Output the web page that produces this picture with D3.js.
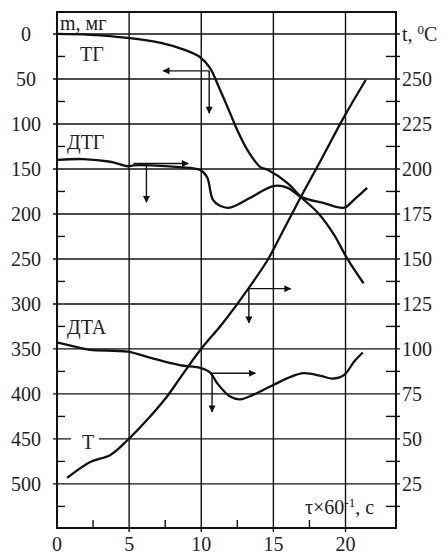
<!DOCTYPE html>
<html lang="ru">
<head>
<meta charset="utf-8">
<style>
  body { margin: 0; background: #fff; }
  svg { background-color: white; font-family: 'Liberation Serif', serif; }
  .tick-label { font-size: 20px; fill: #222; }
  .curve { fill: none; stroke: #111; stroke-width: 2.3; }
  .grid { stroke: #111; stroke-width: 1.4; }
  .arrow { stroke: #111; stroke-width: 1.4; fill: none; }
</style>
</head>
<body>
<div id="chart"></div>
<script src="https://d3js.org/d3.v7.min.js"></script>
<script>
// time, min (tau x 60^-1, s)
var xTicks = [0, 5, 10, 15, 20];
var xMinor = [2.5, 7.5, 12.5, 17.5];
var mTicks = [0, 50, 100, 150, 200, 250, 300, 350, 400, 450, 500];
var tTicks = [25, 50, 75, 100, 125, 150, 175, 200, 225, 250];

// TG (mass loss, mg)
var tgTime = [0, 2.3, 4.9, 7.2, 8.9, 9.9, 10.6, 11.3, 12.0, 12.5, 13.2, 14.1, 14.6, 16.0, 16.9, 18.1, 19.2, 20.1, 21.25];
var tgMass = [0, 1, 4.4, 10, 18, 25.6, 37.8, 62, 88, 107, 129, 148, 151, 166, 181, 199, 223, 249, 277];

// DTG (plotted on the mass axis)
var dtgTime = [0.07, 1.8, 3.7, 4.9, 5.3, 6.5, 8.5, 9.9, 10.4, 10.8, 11.3, 12.0, 13.4, 15.0, 16.0, 16.9, 18.5, 19.9, 20.6, 21.5];
var dtgVal = [140, 139, 142, 147, 146, 146, 148, 151, 159, 184, 191, 193, 182, 169, 171, 181, 188, 193, 184, 171];

// DTA (plotted on the mass axis)
var dtaTime = [0.07, 1.4, 2.3, 4.9, 6.5, 8.5, 9.93, 10.6, 11.1, 12.0, 12.7, 13.6, 15.0, 16.2, 17.1, 18.3, 19.1, 19.9, 20.6, 21.2];
var dtaVal = [343, 348, 351, 353, 360, 368, 371, 376, 388, 403, 406, 401, 390, 381, 377, 380, 383, 379, 364, 354];

// T (temperature, degC, right axis)
var tTime = [0.7, 2.3, 3.7, 4.9, 6.25, 7.6, 8.54, 9.93, 11.5, 13.2, 14.6, 15.7, 16.9, 18.3, 19.9, 21.4];
var tTemp = [28.3, 37.2, 41.1, 49.4, 60.6, 73.3, 83.9, 99.4, 114.4, 132.8, 149.4, 166.1, 184.4, 205, 228.9, 249.4];

// reading arrows: [time, mass, horizontal end time, vertical end mass]
var arrows = [
  [10.55, 41, 7.36, 88],
  [5.3, 144, 9.1, 187],
  [13.3, 283, 16.2, 321],
  [10.7, 377, 13.75, 420]
];
var arrowDrop = [10.55, 6.2, 13.3, 10.75];

var W = 446, H = 556;
var svg = d3.select("#chart").append("svg")
  .attr("width", W).attr("height", H);

var x = d3.scaleLinear().domain([0, 23.5]).range([57, 396]);
var yL = d3.scaleLinear().domain([-24.4, 549]).range([12, 528]);
var yR = d3.scaleLinear().domain([275 + 24.4 / 2, 275 - 549 / 2]).range([12, 528]);

var defs = svg.append("defs");
defs.append("marker")
  .attr("id", "head")
  .attr("viewBox", "0 0 10 10")
  .attr("refX", 9).attr("refY", 5)
  .attr("markerWidth", 9).attr("markerHeight", 7)
  .attr("markerUnits", "userSpaceOnUse")
  .attr("orient", "auto")
  .append("path").attr("d", "M0,0L10,5L0,10Z").attr("fill", "#111");

// grid
svg.append("g").selectAll("line")
  .data(xTicks.slice(1))
  .enter().append("line")
  .attr("class", "grid")
  .attr("x1", function(d) { return x(d); })
  .attr("x2", function(d) { return x(d); })
  .attr("y1", 12).attr("y2", 532);

svg.append("g").selectAll("line")
  .data(mTicks)
  .enter().append("line")
  .attr("class", "grid")
  .attr("x1", 53).attr("x2", 400)
  .attr("y1", function(d) { return yL(d); })
  .attr("y2", function(d) { return yL(d); });

// minor ticks (inward)
svg.append("g").selectAll("line")
  .data(d3.range(25, 550, 50))
  .enter().append("line")
  .attr("class", "grid")
  .attr("x1", 57).attr("x2", 65)
  .attr("y1", function(d) { return yL(d); })
  .attr("y2", function(d) { return yL(d); });

svg.append("g").selectAll("line")
  .data(d3.range(25, 550, 50))
  .enter().append("line")
  .attr("class", "grid")
  .attr("x1", 386).attr("x2", 400)
  .attr("y1", function(d) { return yL(d); })
  .attr("y2", function(d) { return yL(d); });

svg.append("g").selectAll("line")
  .data(xMinor)
  .enter().append("line")
  .attr("class", "grid")
  .attr("x1", function(d) { return x(d); })
  .attr("x2", function(d) { return x(d); })
  .attr("y1", 520).attr("y2", 528);

// frame
svg.append("rect")
  .attr("x", 57).attr("y", 12)
  .attr("width", 396 - 57).attr("height", 528 - 12)
  .attr("fill", "none").attr("stroke", "#111").attr("stroke-width", 2);

// curves
function drawCurve(xs, ys, yScale) {
  var pts = xs.map(function(d, i) { return [x(d), yScale(ys[i])]; });
  svg.append("path")
    .attr("class", "curve")
    .attr("d", d3.line().curve(d3.curveCatmullRom.alpha(0.5))(pts));
}
drawCurve(tgTime, tgMass, yL);
drawCurve(dtgTime, dtgVal, yL);
drawCurve(dtaTime, dtaVal, yL);
drawCurve(tTime, tTemp, yR);

// arrows
arrows.forEach(function(a, i) {
  svg.append("line").attr("class", "arrow")
    .attr("x1", x(a[0])).attr("y1", yL(a[1]))
    .attr("x2", x(a[2])).attr("y2", yL(a[1]))
    .attr("marker-end", "url(#head)");
  svg.append("line").attr("class", "arrow")
    .attr("x1", x(arrowDrop[i])).attr("y1", yL(a[1]))
    .attr("x2", x(arrowDrop[i])).attr("y2", yL(a[3]))
    .attr("marker-end", "url(#head)");
});

// tick labels
svg.append("g").selectAll("text")
  .data(mTicks)
  .enter().append("text")
  .attr("class", "tick-label")
  .attr("x", 26)
  .attr("y", function(d) { return yL(d) + 7; })
  .attr("text-anchor", "middle")
  .text(function(d) { return d; });

svg.append("g").selectAll("text")
  .data(tTicks)
  .enter().append("text")
  .attr("class", "tick-label")
  .attr("x", 402)
  .attr("y", function(d) { return yR(d) + 7; })
  .text(function(d) { return d; });

svg.append("g").selectAll("text")
  .data(xTicks)
  .enter().append("text")
  .attr("class", "tick-label")
  .attr("x", function(d) { return x(d); })
  .attr("y", 551)
  .attr("text-anchor", "middle")
  .text(function(d) { return d; });

// axis titles
var tt = svg.append("text").attr("class", "tick-label")
  .attr("x", 402).attr("y", yR(275) + 7);
tt.append("tspan").text("t, ");
tt.append("tspan").attr("font-size", "13px").attr("dy", -7).text("0");
tt.append("tspan").attr("dy", 7).text("C");

svg.append("text").attr("class", "tick-label")
  .attr("x", 60).attr("y", 30)
  .text("m, мг");

var xt = svg.append("text").attr("class", "tick-label")
  .attr("x", 305).attr("y", 514);
xt.append("tspan").text("τ×60");
xt.append("tspan").attr("font-size", "13px").attr("dy", -7).text("-1");
xt.append("tspan").attr("dy", 7).text(", c");

// series labels
svg.append("text").attr("class", "tick-label").attr("x", 80).attr("y", 61).text("ТГ");
svg.append("text").attr("class", "tick-label").attr("x", 67).attr("y", 149).text("ДТГ");
svg.append("text").attr("class", "tick-label").attr("x", 67).attr("y", 334).text("ДТА");
svg.append("rect").attr("x", 71).attr("y", 434).attr("width", 28).attr("height", 16).attr("fill", "white");
svg.append("text").attr("class", "tick-label").attr("x", 82).attr("y", 449).text("T");
</script>
</body>
</html>
